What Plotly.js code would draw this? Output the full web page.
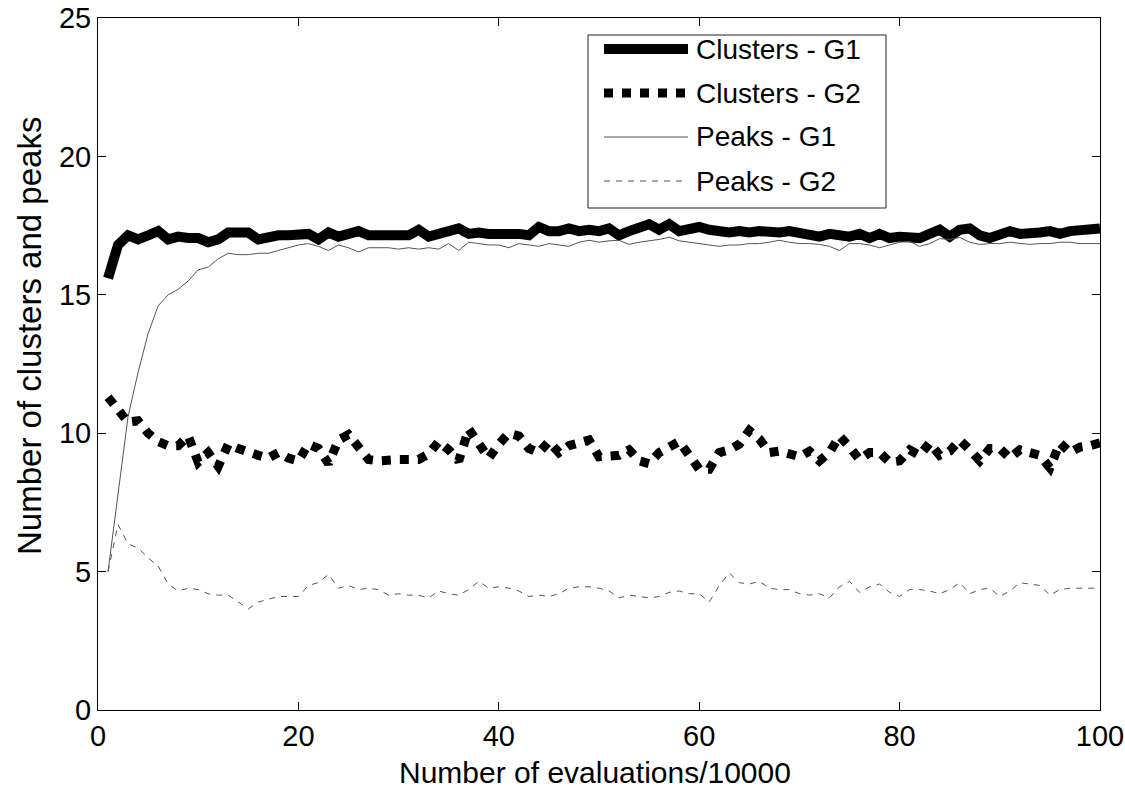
<!DOCTYPE html>
<html>
<head>
<meta charset="utf-8">
<script src="https://cdn.plot.ly/plotly-3.0.1.min.js"></script>
<style>html,body{margin:0;padding:0;background:#fff;}#chart{width:1125px;height:789px;}</style>
</head>
<body>
<div id="chart"></div>
<script>
const evaluations = Array.from({length: 100}, (_, i) => i + 1);

const clustersG1 = [15.6,16.8,17.15,17.0,17.15,17.3,17.0,17.1,17.05,17.05,
  16.9,17.0,17.25,17.25,17.25,17.0,17.1,17.15,17.15,17.2,
  17.2,17.0,17.25,17.1,17.2,17.3,17.15,17.15,17.15,17.15,
  17.15,17.35,17.1,17.2,17.3,17.4,17.2,17.25,17.2,17.2,
  17.25,17.2,17.15,17.45,17.3,17.3,17.4,17.3,17.35,17.3,
  17.4,17.15,17.3,17.45,17.55,17.35,17.55,17.3,17.4,17.45,
  17.35,17.3,17.25,17.3,17.25,17.3,17.25,17.25,17.3,17.25,
  17.2,17.1,17.2,17.15,17.1,17.2,17.05,17.2,17.05,17.1,
  17.1,17.05,17.2,17.35,17.1,17.35,17.4,17.15,17.05,17.2,
  17.3,17.2,17.2,17.25,17.3,17.2,17.3,17.35,17.35,17.4];

const clustersG2 = [11.3,10.8,10.4,10.45,10.0,9.7,9.55,9.55,9.9,8.95,
  9.3,8.8,9.6,9.45,9.3,9.2,9.1,9.3,9.1,9.0,
  9.6,9.45,8.9,9.75,9.95,9.5,9.05,9.0,9.05,9.05,
  9.05,9.05,9.25,9.7,9.4,9.0,10.15,9.65,9.1,9.6,
  10.0,9.9,9.45,9.3,9.7,9.3,9.55,9.65,9.75,9.15,
  9.15,9.2,9.4,9.0,8.9,9.3,9.5,9.7,9.2,8.7,
  8.7,9.3,9.4,9.6,10.1,9.8,9.3,9.35,9.25,9.15,
  9.35,9.0,9.3,9.9,9.5,9.05,9.3,9.3,8.95,9.0,
  9.4,9.2,9.65,9.2,9.35,9.75,9.4,9.0,9.45,9.45,
  9.1,9.4,9.3,9.2,8.75,9.65,9.3,9.5,9.55,9.65];

const peaksG1 = [5.0,7.8,10.6,12.2,13.6,14.6,15.0,15.2,15.5,15.9,
  16.0,16.3,16.5,16.45,16.45,16.5,16.5,16.6,16.7,16.8,
  16.85,16.75,16.6,16.8,16.7,16.55,16.7,16.7,16.7,16.65,
  16.7,16.65,16.7,16.65,16.85,16.6,16.9,16.85,16.8,16.8,
  16.7,16.85,16.8,16.75,16.85,16.8,16.75,16.9,16.97,16.9,
  16.95,16.97,16.82,16.9,16.95,17.0,17.08,16.95,16.9,16.85,
  16.8,16.75,16.8,16.8,16.85,16.85,16.9,16.97,16.9,16.85,
  16.85,16.82,16.75,16.6,16.85,16.85,16.8,16.7,16.8,16.9,
  16.93,16.75,16.85,17.03,17.0,17.07,16.9,16.82,16.85,16.85,
  16.9,16.85,16.82,16.85,16.85,16.9,16.9,16.85,16.85,16.85];

const peaksG2 = [5.0,6.7,6.0,5.85,5.5,5.2,4.55,4.3,4.4,4.35,
  4.2,4.15,4.15,3.9,3.65,3.9,4.0,4.1,4.1,4.1,
  4.5,4.6,4.9,4.4,4.5,4.35,4.4,4.35,4.15,4.2,
  4.15,4.15,4.05,4.3,4.2,4.15,4.35,4.65,4.4,4.45,
  4.4,4.3,4.1,4.15,4.1,4.2,4.4,4.45,4.45,4.4,
  4.3,4.05,4.15,4.1,4.05,4.1,4.25,4.3,4.2,4.2,
  3.9,4.5,4.95,4.6,4.55,4.65,4.4,4.35,4.35,4.2,
  4.15,4.2,4.05,4.45,4.65,4.25,4.45,4.55,4.25,4.1,
  4.35,4.35,4.3,4.2,4.35,4.6,4.2,4.35,4.4,4.1,
  4.3,4.6,4.55,4.5,4.15,4.35,4.4,4.4,4.4,4.4];

const seriesNames = ["Clusters - G1", "Clusters - G2", "Peaks - G1", "Peaks - G2"];
const xTicks = [0, 20, 40, 60, 80, 100];
const yTicks = [0, 5, 10, 15, 20, 25];
const xTitle = "Number of evaluations/10000";
const yTitle = "Number of clusters and peaks";

const styles = [
  {color: "#000", width: 10, dash: "solid"},
  {color: "#000", width: 9, dash: "dot"},
  {color: "#555", width: 1, dash: "solid"},
  {color: "#555", width: 1, dash: "6px,6px"}
];
const seriesData = [clustersG1, clustersG2, peaksG1, peaksG2];

const traces = seriesData.map((ys, i) => ({
  type: "scatter", mode: "lines", x: evaluations, y: ys, name: seriesNames[i],
  line: {color: styles[i].color, width: styles[i].width, dash: styles[i].dash},
  showlegend: false, hoverinfo: "skip"
}));

// plot area in pixels
const L = 98, R = 1100, T = 18, B = 710, W = 1125, H = 789;
const px = v => (v - L) / (R - L);
const py = v => (B - v) / (B - T);

const font = "Liberation Sans, Arial, sans-serif";
const shapes = [{type: "rect", xref: "paper", yref: "paper",
  x0: px(588), x1: px(886), y0: py(208), y1: py(35),
  line: {color: "#222", width: 1}, fillcolor: "#fff", layer: "above"}];
const annotations = [];
const rowsY = [49, 93, 137, 181];
seriesNames.forEach((n, i) => {
  shapes.push({type: "line", xref: "paper", yref: "paper",
    x0: px(604), x1: px(688), y0: py(rowsY[i]), y1: py(rowsY[i]),
    line: {color: styles[i].color, width: styles[i].width, dash: styles[i].dash}, layer: "above"});
  annotations.push({xref: "paper", yref: "paper", x: px(694), y: py(rowsY[i]),
    xanchor: "left", yanchor: "middle", text: n, showarrow: false,
    font: {family: font, size: 28, color: "#000"}});
});
// axis titles
annotations.push({xref: "paper", yref: "paper", x: px(595), y: py(772),
  xanchor: "center", yanchor: "middle", text: xTitle, showarrow: false,
  font: {family: font, size: 30, color: "#000"}});
annotations.push({xref: "paper", yref: "paper", x: px(29), y: py(336),
  xanchor: "center", yanchor: "middle", text: yTitle, showarrow: false, textangle: -90,
  font: {family: font, size: 33, color: "#000"}});

const axisCommon = {
  showgrid: false, zeroline: false, showline: true, linecolor: "#000", linewidth: 1,
  mirror: "ticks", ticks: "inside", ticklen: 8, tickcolor: "#000", tickwidth: 1,
  tickfont: {family: font, size: 29, color: "#000"}, automargin: false,
  ticklabeloverflow: "allow"
};

const layout = {
  width: W, height: H,
  margin: {l: L, r: W - R, t: T, b: H - B},
  paper_bgcolor: "#fff", plot_bgcolor: "#fff",
  xaxis: Object.assign({}, axisCommon, {
    range: [0, 100], tickvals: xTicks, ticktext: xTicks.map(String)
  }),
  yaxis: Object.assign({}, axisCommon, {
    range: [0, 25], tickvals: yTicks, ticktext: yTicks.map(String)
  }),
  shapes: shapes,
  annotations: annotations,
  showlegend: false
};

Plotly.newPlot("chart", traces, layout, {displayModeBar: false, staticPlot: true});
</script>
</body>
</html>
